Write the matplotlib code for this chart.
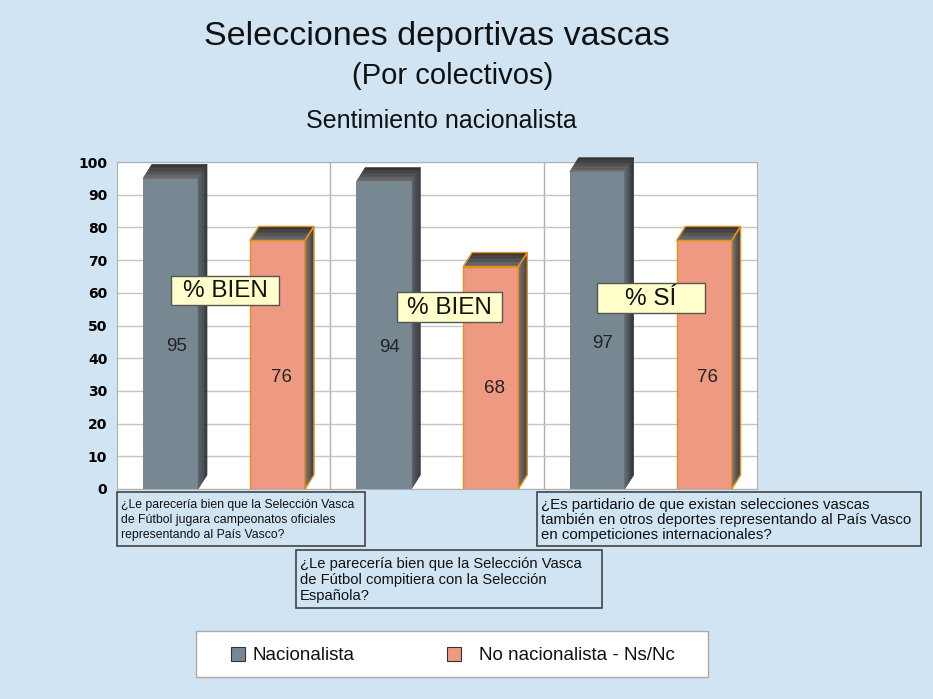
import numpy as np
import matplotlib
matplotlib.use("Agg")
import matplotlib.pyplot as plt
from matplotlib.patches import Polygon, Rectangle
from matplotlib.colors import to_rgb

plt.rcParams['font.family'] = ['Liberation Sans', 'DejaVu Sans']

# data
nacionalista = [95, 94, 97]
no_nacionalista = [76, 68, 76]
box_labels = ['% BIEN', '% BIEN', '% SÍ']
questions = [
    "¿Le parecería bien que la Selección Vasca\nde Fútbol jugara campeonatos oficiales\nrepresentando al País Vasco?",
    "¿Le parecería bien que la Selección Vasca\nde Fútbol compitiera con la Selección\nEspañola?",
    "¿Es partidario de que existan selecciones vascas\ntambién en otros deportes representando al País Vasco\nen competiciones internacionales?",
]
series_names = ['Nacionalista', 'No nacionalista - Ns/Nc']
yticks = list(range(0, 101, 10))

BG = '#D0E4F4'
GRAY = '#788893'
ORANGE = '#EE9A82'
ORANGE_EDGE = '#E8901E'

FW, FH = 933, 699
W = 0.258            # bar width (data units)
DX, DY = 0.042, 4.3  # fake depth


def fx(px):
    return px / FW


def fy(py):
    return 1 - py / FH


def shade(ax, p0, p1, p2, p3, c0, c1, n=10, edge=None):
    """Fill quad p0-p1-p2-p3 with strips going from colour c0 (p0/p3 side) to c1."""
    c0, c1 = np.array(to_rgb(c0)), np.array(to_rgb(c1))
    p0, p1, p2, p3 = map(np.array, (p0, p1, p2, p3))
    for i in range(n):
        a, b = i / n, (i + 1) / n
        q = [p0 + (p1 - p0) * a, p0 + (p1 - p0) * b, p3 + (p2 - p3) * b, p3 + (p2 - p3) * a]
        col = c0 + (c1 - c0) * (a + b) / 2
        ax.add_patch(Polygon(q, closed=True, fc=col, ec=col, lw=0.4, clip_on=False, zorder=3))
    if edge:
        ax.add_patch(Polygon([p0, p1, p2, p3], closed=True, fill=False, ec=edge, lw=1,
                             clip_on=False, zorder=4))


def bar3d(ax, x0, h, front, side0, side1, edge=None):
    ax.bar(x0, h, width=W, align='edge', color=front, edgecolor=edge or front,
           linewidth=1 if edge else 0, zorder=3)
    x1 = x0 + W
    shade(ax, (x1, 0), (x1 + DX, DY), (x1 + DX, h + DY), (x1, h), side0, side1, edge=edge)
    shade(ax, (x0, h), (x0 + DX, h + DY), (x1 + DX, h + DY), (x1, h), '#6e6e6e', '#2e2e2e', edge=edge)


def fig_box(x0, y0, x1, y1, fc, ec, lw=1.2, z=5):
    fig.add_artist(Rectangle((fx(x0), fy(y1)), fx(x1) - fx(x0), fy(y0) - fy(y1),
                             transform=fig.transFigure, fc=fc, ec=ec, lw=lw, zorder=z))


fig = plt.figure(figsize=(FW / 100, FH / 100), dpi=100, facecolor=BG)
ax = fig.add_axes([fx(117), fy(489), fx(757) - fx(117), fy(162) - fy(489)])
ax.set_facecolor('white')
ax.set_xlim(0, 3)
ax.set_ylim(0, 100)
ax.set_yticks(yticks)
ax.set_yticklabels([str(t) for t in yticks], fontsize=10, fontweight='bold', family='DejaVu Sans')
ax.tick_params(axis='y', length=0, pad=7)
ax.set_xticks([])
ax.grid(axis='y', color='#c4c4c4', lw=1, zorder=0)
for xv in [1, 2]:
    ax.axvline(xv, color='#b0b0b0', lw=1, zorder=0)
for s in ax.spines.values():
    s.set_color('#b0b0b0')

for i in range(3):
    xa = i + 0.122
    xb = i + 0.623
    bar3d(ax, xa, nacionalista[i], GRAY, '#5c666e', '#30353a')
    bar3d(ax, xb, no_nacionalista[i], ORANGE, '#857870', '#3a3a3a', edge=ORANGE_EDGE)
    ax.text(xa + W / 2 + 0.026, nacionalista[i] * 0.46, str(nacionalista[i]),
            ha='center', va='center', fontsize=13.5, color='#222222', zorder=6)
    ax.text(xb + W / 2 + 0.017, no_nacionalista[i] * 0.45, str(no_nacionalista[i]),
            ha='center', va='center', fontsize=13.5, color='#222222', zorder=6)

# yellow labels
box_rects = [(171, 276, 279, 305), (397, 292, 502, 322), (597, 283, 705, 313)]
for (x0, y0, x1, y1), lab in zip(box_rects, box_labels):
    fig_box(x0, y0, x1, y1, '#FFFFCC', '#555555', lw=1, z=8)
    fig.text(fx((x0 + x1) / 2), fy((y0 + y1) / 2 + 1), lab, ha='center', va='center',
             fontsize=17.5, color='#111111', zorder=9)

# question boxes
q_rects = [(117, 492, 365, 546), (296, 550, 602, 608), (537, 492, 921, 546)]
q_sizes = [8.8, 10.6, 10.8]
q_spacing = [1.35, 1.15, 1.12]
for (x0, y0, x1, y1), q, fs, ls in zip(q_rects, questions, q_sizes, q_spacing):
    fig_box(x0, y0, x1, y1, BG, '#444444', lw=1.2, z=5)
    fig.text(fx(x0 + 4), fy((y0 + y1) / 2 + 1), q, ha='left', va='center', fontsize=fs,
             linespacing=ls, color='#111111', zorder=6)

# titles
fig.text(fx(437), fy(36), 'Selecciones deportivas vascas', ha='center', va='center',
         fontsize=24.5, color='#111111')
fig.text(fx(453), fy(76), '(Por colectivos)', ha='center', va='center',
         fontsize=21, color='#111111')
fig.text(fx(441), fy(121), 'Sentimiento nacionalista', ha='center', va='center',
         fontsize=18, color='#111111')

# legend
fig_box(196, 631, 708, 677, 'white', '#aaaaaa', lw=1, z=5)
for (sx, tx), name, col in zip([(231, 252), (447, 479)], series_names, [GRAY, ORANGE]):
    fig_box(sx, 647, sx + 14, 661, col, '#333333', lw=0.8, z=6)
    fig.text(fx(tx), fy(655), name, ha='left', va='center', fontsize=13.5,
             color='#111111', zorder=6)

fig.savefig('out.png', dpi=100, facecolor=BG)
